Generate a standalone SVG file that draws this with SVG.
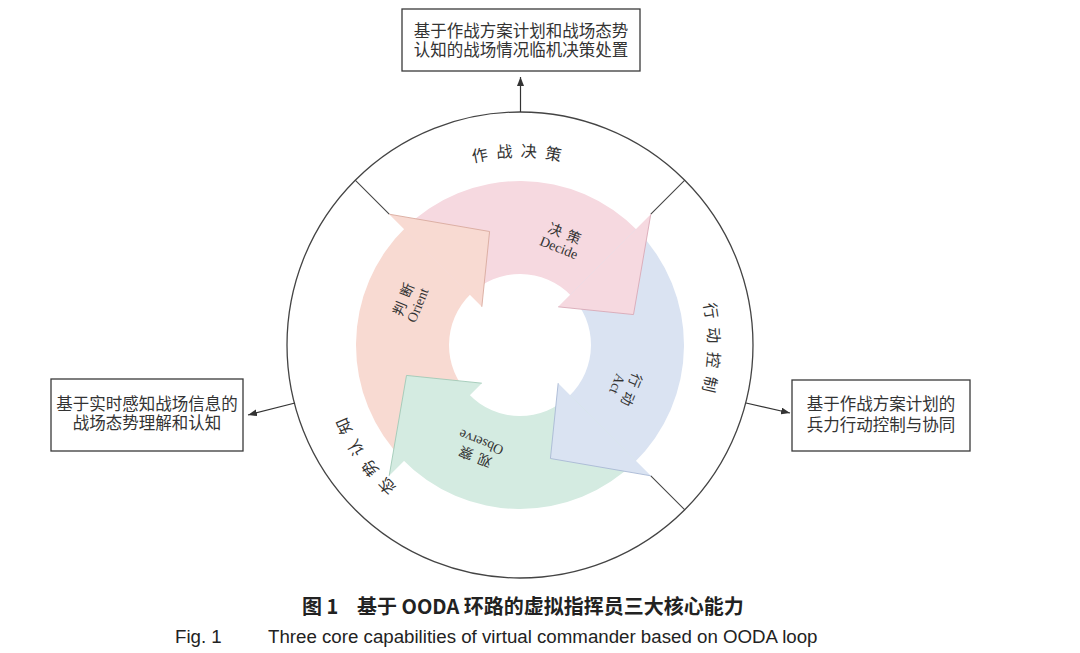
<svg xmlns="http://www.w3.org/2000/svg" width="1080" height="653" viewBox="0 0 1080 653">
<style>
.box{fill:#fff;stroke:#3a3a3a;stroke-width:1.3}
.bt{font-family:"Liberation Serif","Noto Sans CJK SC",serif;font-size:16.5px;fill:#333;text-anchor:middle}
.conn{stroke:#333;stroke-width:1.2;fill:none}
.ring{fill:#fff;stroke:#444;stroke-width:1.3}
.div{stroke:#444;stroke-width:1.1}
.rl{font-family:"Liberation Serif","Noto Sans CJK SC",serif;font-size:16px;fill:#333;letter-spacing:8px;text-anchor:middle}
.il{font-family:"Liberation Serif","Noto Sans CJK SC",serif;font-size:14px;fill:#333;text-anchor:middle}
.edge{fill:none;stroke-width:0.9}
.cap1{font-family:"Noto Sans CJK SC","Liberation Sans",sans-serif;font-size:20px;font-weight:bold;fill:#222}
.cap2{font-family:"Liberation Sans",Arial,sans-serif;font-size:18.7px;fill:#222}
</style>
<defs>
<marker id="ah" markerWidth="9" markerHeight="7" refX="9" refY="3.5" orient="auto" markerUnits="userSpaceOnUse"><path d="M0,0 L9,3.5 L0,7 Z" fill="#333"/></marker>
<path id="rp" d="M520,533 A188,188 0 1 1 520,157 A188,188 0 1 1 520,533"/>
</defs>
<rect width="1080" height="653" fill="#fff"/>

<g id="outer-ring">
<circle class="ring" cx="520" cy="345" r="233"/>
<line class="div" x1="355.2" y1="180.2" x2="389.2" y2="214.2"/>
<line class="div" x1="684.8" y1="180.2" x2="650.8" y2="214.2"/>
<line class="div" x1="684.8" y1="509.8" x2="650.8" y2="475.8"/>
<text class="rl"><textPath href="#rp" startOffset="591">作战决策</textPath></text>
<text class="rl"><textPath href="#rp" startOffset="892">行动控制</textPath></text>
<text class="rl"><textPath href="#rp" startOffset="182">态势认知</textPath></text>
</g>

<g id="arrow-bands">
<path id="band-orient" fill="#f8dad2" d="M404.03,460.97 A164,164 0 0 1 406.08,227.03 L470.68,293.93 A71,71 0 0 0 469.80,395.20 Z"/>
<path id="band-decide" fill="#f6d9e0" d="M404.03,229.03 A164,164 0 0 1 637.97,231.08 L571.07,295.68 A71,71 0 0 0 469.80,294.80 Z"/>
<path id="band-act" fill="#dae3f2" d="M635.97,229.03 A164,164 0 0 1 633.92,462.97 L569.32,396.07 A71,71 0 0 0 570.20,294.80 Z"/>
<path id="band-observe" fill="#d4ebe1" d="M635.97,460.97 A164,164 0 0 1 402.03,458.92 L468.93,394.32 A71,71 0 0 0 570.20,395.20 Z"/>
</g>

<g id="orient">
<path fill="#f8dad2" d="M389.19,214.19 L489.59,231.5 L481.82,306.82 Z"/>
<polyline class="edge" stroke="#d9aa9e" points="389.19,214.19 489.59,231.5 481.82,306.82"/>
<g transform="translate(410,302) rotate(-68)">
<text class="il" x="3" y="-2" letter-spacing="6">判断</text>
<text class="il" y="13">Orient</text>
</g>
</g>

<g id="decide">
<path fill="#f6d9e0" d="M650.81,214.19 L633.5,314.59 L558.18,306.82 Z"/>
<polyline class="edge" stroke="#d9a9b7" points="650.81,214.19 633.5,314.59 558.18,306.82"/>
<g transform="translate(562,240) rotate(22)">
<text class="il" x="3" y="-2" letter-spacing="6">决策</text>
<text class="il" y="13">Decide</text>
</g>
</g>

<g id="act">
<path fill="#dae3f2" d="M650.81,475.81 L550.41,458.5 L558.18,383.18 Z"/>
<polyline class="edge" stroke="#a9b9d5" points="650.81,475.81 550.41,458.5 558.18,383.18"/>
<g transform="translate(625,387) rotate(112)">
<text class="il" x="3" y="-2" letter-spacing="6">行动</text>
<text class="il" y="13">Act</text>
</g>
</g>

<g id="observe">
<path fill="#d4ebe1" d="M389.19,475.81 L406.5,375.41 L481.82,383.18 Z"/>
<polyline class="edge" stroke="#a0c9b7" points="389.19,475.81 406.5,375.41 481.82,383.18"/>
<g transform="translate(478,450) rotate(202)">
<text class="il" x="3" y="-2" letter-spacing="6">观察</text>
<text class="il" y="13">Observe</text>
</g>
</g>

<g id="box-top">
<rect class="box" x="402" y="9" width="238" height="62"/>
<text class="bt" x="521" y="36.5">基于作战方案计划和战场态势</text>
<text class="bt" x="521" y="56">认知的战场情况临机决策处置</text>
</g>

<g id="box-left">
<rect class="box" x="51" y="379" width="192" height="72"/>
<text class="bt" x="147" y="409.5">基于实时感知战场信息的</text>
<text class="bt" x="147" y="429">战场态势理解和认知</text>
</g>

<g id="box-right">
<rect class="box" x="792" y="380" width="178" height="71"/>
<text class="bt" x="881" y="410">基于作战方案计划的</text>
<text class="bt" x="881" y="431">兵力行动控制与协同</text>
</g>

<g id="connectors">
<line class="conn" x1="520.5" y1="112" x2="520.5" y2="77" marker-end="url(#ah)"/>
<line class="conn" x1="295" y1="403" x2="248" y2="415" marker-end="url(#ah)"/>
<line class="conn" x1="746" y1="403" x2="790" y2="413" marker-end="url(#ah)"/>
</g>

<g id="caption">
<text class="cap1" x="302" y="614">图 1</text>
<text class="cap1" x="357" y="614">基于 OODA 环路的虚拟指挥员三大核心能力</text>
<text class="cap2" x="175" y="643">Fig. 1</text>
<text class="cap2" x="268" y="643">Three core capabilities of virtual commander based on OODA loop</text>
</g>
</svg>
